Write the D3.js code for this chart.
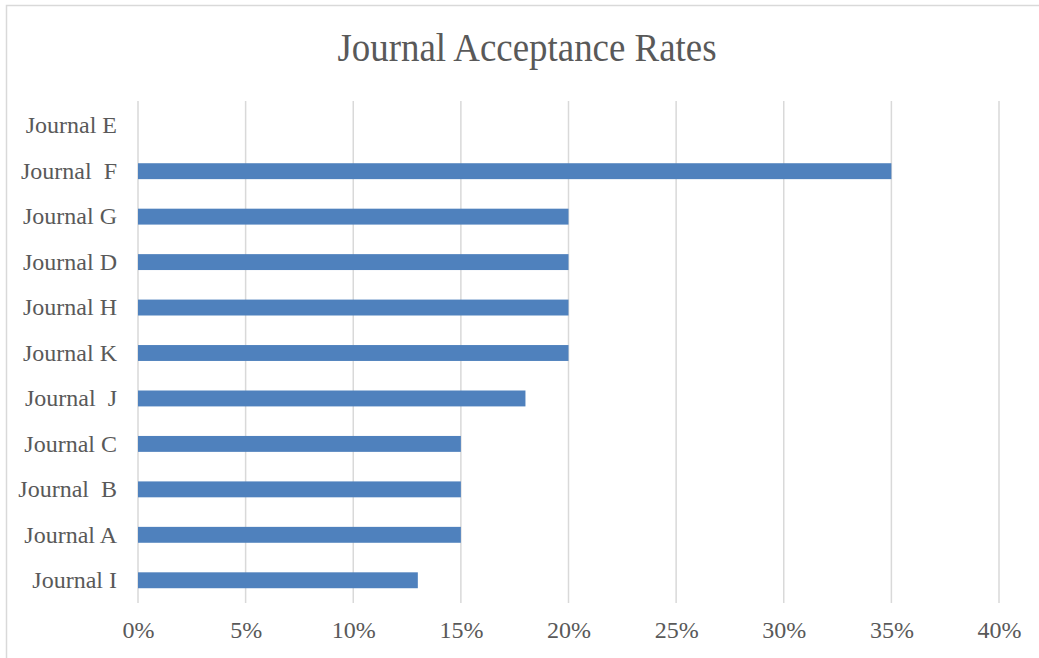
<!DOCTYPE html>
<html>
<head>
<meta charset="utf-8">
<script src="https://cdn.jsdelivr.net/npm/d3@7"></script>
<style>
  body { margin: 0; background: #fff; }
  svg text { font-family: "Liberation Serif", "Times New Roman", serif; fill: #595959; white-space: pre; }
</style>
</head>
<body>
<svg id="chart" width="1039" height="658"></svg>
<script>
const journals = ["Journal E", "Journal  F", "Journal G", "Journal D", "Journal H", "Journal K",
    "Journal  J", "Journal C", "Journal  B", "Journal A", "Journal I"];
const rates = [0, 35, 20, 20, 20, 20, 18, 15, 15, 15, 13];
const tickValues = [0, 5, 10, 15, 20, 25, 30, 35, 40];

const WIDTH = 1039;
const HEIGHT = 658;
const PLOT_LEFT = 138;
const PLOT_RIGHT = 999;
const PLOT_TOP = 103;
const PLOT_BOTTOM = 603;
const FONT = "\"Liberation Serif\", \"Times New Roman\", serif";

const svg = d3.select("#chart");

// chart frame
svg.append("rect")
    .attr("x", 6.5)
    .attr("y", 5.5)
    .attr("width", WIDTH + 10)
    .attr("height", HEIGHT + 10)
    .attr("fill", "#fff")
    .attr("stroke", "#d9d9d9")
    .attr("stroke-width", 1.5);

// title looks a bit condensed in the original, so squeeze it horizontally
svg.append("text")
    .attr("transform", "translate(527, 61) scale(0.9, 1)")
    .attr("text-anchor", "middle")
    .style("font-size", "41px")
    .text("Journal Acceptance Rates");

const x = d3.scaleLinear()
    .domain([0, 40])
    .range([PLOT_LEFT, PLOT_RIGHT]);

const y = d3.scaleBand()
    .domain(journals)
    .range([PLOT_TOP, PLOT_BOTTOM])
    .paddingInner(0.65)
    .paddingOuter(0.325);

// gridlines
svg.selectAll(".grid")
    .data(tickValues)
    .enter()
    .append("line")
    .attr("class", "grid")
    .attr("x1", (d) => x(d))
    .attr("x2", (d) => x(d))
    .attr("y1", PLOT_TOP - 2)
    .attr("y2", PLOT_BOTTOM)
    .attr("stroke", "#d9d9d9")
    .attr("stroke-width", 1.5);

svg.selectAll(".bar")
    .data(journals)
    .enter()
    .append("rect")
    .attr("class", "bar")
    .attr("x", x(0))
    .attr("y", (d) => y(d))
    .attr("width", (_d, i) => x(rates[i]) - x(0))
    .attr("height", y.bandwidth())
    .attr("fill", "#4f81bd");

// x axis labels
const xAxis = d3.axisBottom(x)
    .tickValues(tickValues)
    .tickFormat((d) => d + "%")
    .tickSize(0)
    .tickPadding(18);

svg.append("g")
    .attr("transform", `translate(0, ${PLOT_BOTTOM})`)
    .call(xAxis)
    .call((g) => g.select(".domain").remove())
    .selectAll("text")
    .style("font-family", FONT)
    .style("font-size", "24px")
    .attr("fill", "#595959");

// y axis labels
const yAxis = d3.axisLeft(y)
    .tickSize(0)
    .tickPadding(21);

svg.append("g")
    .attr("transform", `translate(${PLOT_LEFT}, 0)`)
    .call(yAxis)
    .call((g) => g.select(".domain").remove())
    .selectAll("text")
    .style("font-family", FONT)
    .style("font-size", "24px")
    .style("white-space", "pre")
    .attr("fill", "#595959");
</script>
</body>
</html>
